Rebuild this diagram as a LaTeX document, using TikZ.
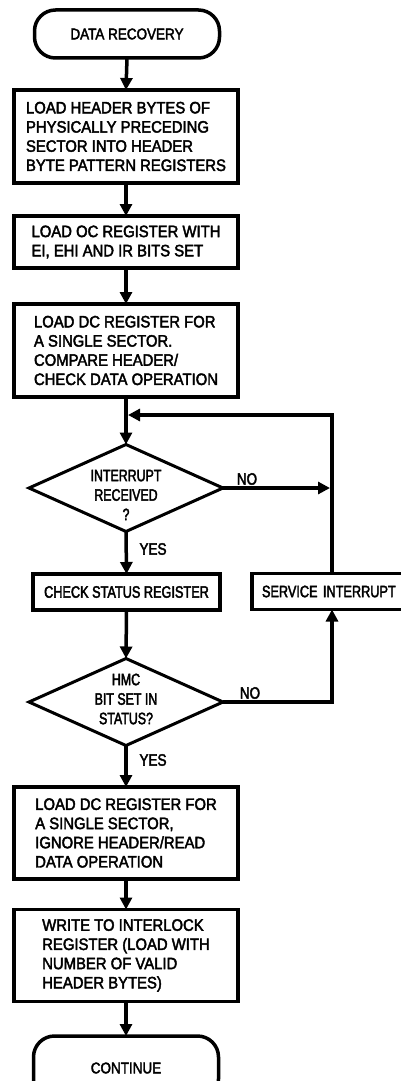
\documentclass[tikz,border=0pt]{standalone}
\usepackage{fontspec}
\setmainfont{Liberation Sans}
\newfontfamily\boxfont[FakeStretch=0.9,FakeBold=2.5]{Liberation Sans}
\newfontfamily\narrowfont[FakeStretch=0.77,FakeBold=2.5]{Liberation Sans}
\newfontfamily\diafont[FakeStretch=0.75,FakeBold=2.5]{Liberation Sans}
\newfontfamily\termfont[FakeStretch=0.87,FakeBold=2.5]{Liberation Sans}
\newfontfamily\lblfont[FakeStretch=0.82,FakeBold=2.5]{Liberation Sans}
\usetikzlibrary{shapes.geometric,arrows.meta}
\begin{document}
\begin{tikzpicture}[x=1pt,y=-1pt,
  every node/.style={inner sep=0pt, outer sep=0pt},
  proc/.style={draw, line width=3.5pt, minimum width=224pt, minimum height=92pt, align=left, font=\boxfont\fontsize{16.5}{19.2}\selectfont},
  smallbox/.style={draw, line width=3.5pt, minimum height=36pt, align=center, font=\narrowfont\fontsize{16.5}{19.2}\selectfont},
  term/.style={draw, line width=3.5pt, rounded corners=21pt, minimum width=185pt, minimum height=48pt, align=center, font=\termfont\fontsize{15.5}{18}\selectfont},
  dec/.style={draw, diamond, line width=3pt, minimum width=194pt, minimum height=87pt},
  dectext/.style={align=center, font=\diafont\fontsize{16.5}{19.5}\selectfont},
  lbl/.style={font=\lblfont\fontsize{16.5}{19.2}\selectfont},
  conn/.style={line width=3.5pt},
  arr/.style={conn, -{Triangle[length=12pt,width=12pt]}}
]
\useasboundingbox (0,0) rectangle (401,1081);
\clip (0,0) rectangle (401,1081);

% nodes
\node[term] (t1) at (127,34) {DATA RECOVERY};
\node[proc, minimum height=93pt] (b1) at (126,136.5) {LOAD HEADER BYTES OF\\PHYSICALLY PRECEDING\\SECTOR INTO HEADER\\BYTE PATTERN REGISTERS};
\node[proc, minimum height=52pt] (b2) at (126,242) {LOAD OC REGISTER WITH\\EI, EHI AND IR BITS SET\hspace{10pt}};
\node[proc, minimum height=93pt] (b3) at (126,350.5) {LOAD DC REGISTER FOR\\A SINGLE SECTOR.\\COMPARE HEADER/\\CHECK DATA OPERATION};
\node[dec] (d1) at (126,488) {};
\node[dectext] (d1t) at (126,495) {INTERRUPT\\RECEIVED\\?};
\node[smallbox, minimum width=187pt] (cs) at (126.5,592) {CHECK STATUS REGISTER};
\node[smallbox, text width=140pt, inner xsep=10pt, align=left] (si) at (332,591.5) {SERVICE INTERRUPT};
\node[dec] (d2) at (126,702) {};
\node[dectext] (d2t) at (126,699) {HMC\\BIT SET IN\\STATUS?};
\node[proc] (b4) at (126,833) {LOAD DC REGISTER FOR\\A SINGLE SECTOR,\\IGNORE HEADER/READ\\DATA OPERATION\hspace{10pt}};
\node[proc] (b5) at (126,955.5) {WRITE TO INTERLOCK\hspace{30pt}\\REGISTER (LOAD WITH\\NUMBER OF VALID\\HEADER BYTES)};
\node[term, minimum height=64pt] (t2) at (126,1068) {CONTINUE};

% labels
\node[lbl] (no1) at (247,479) {NO};
\node[lbl] (no2) at (250,693) {NO};
\node[lbl] (yes1) at (153,549) {YES};
\node[lbl] (yes2) at (153,760) {YES};

% helper coordinates
\coordinate (join) at (128,415);
\coordinate (hit1) at (330,488);

% connectors
\draw[arr] (t1.south) -- (b1.north);
\draw[arr] (b1.south) -- (b2.north);
\draw[arr] (b2.south) -- (b3.north);
\draw[arr] (b3.south) -- (d1.north);
\draw[arr] (d1.south) -- (cs.north);
\draw[arr] (cs.south) -- (d2.north);
\draw[arr] (d2.south) -- (b4.north);
\draw[arr] (b4.south) -- (b5.north);
\draw[arr] (b5.south) -- (t2.north);
\draw[arr] (d1.east) -- (hit1);
\draw[arr] (d2.east) -| (si.south);
\draw[arr] (si.north) |- (join);
\end{tikzpicture}
\end{document}
